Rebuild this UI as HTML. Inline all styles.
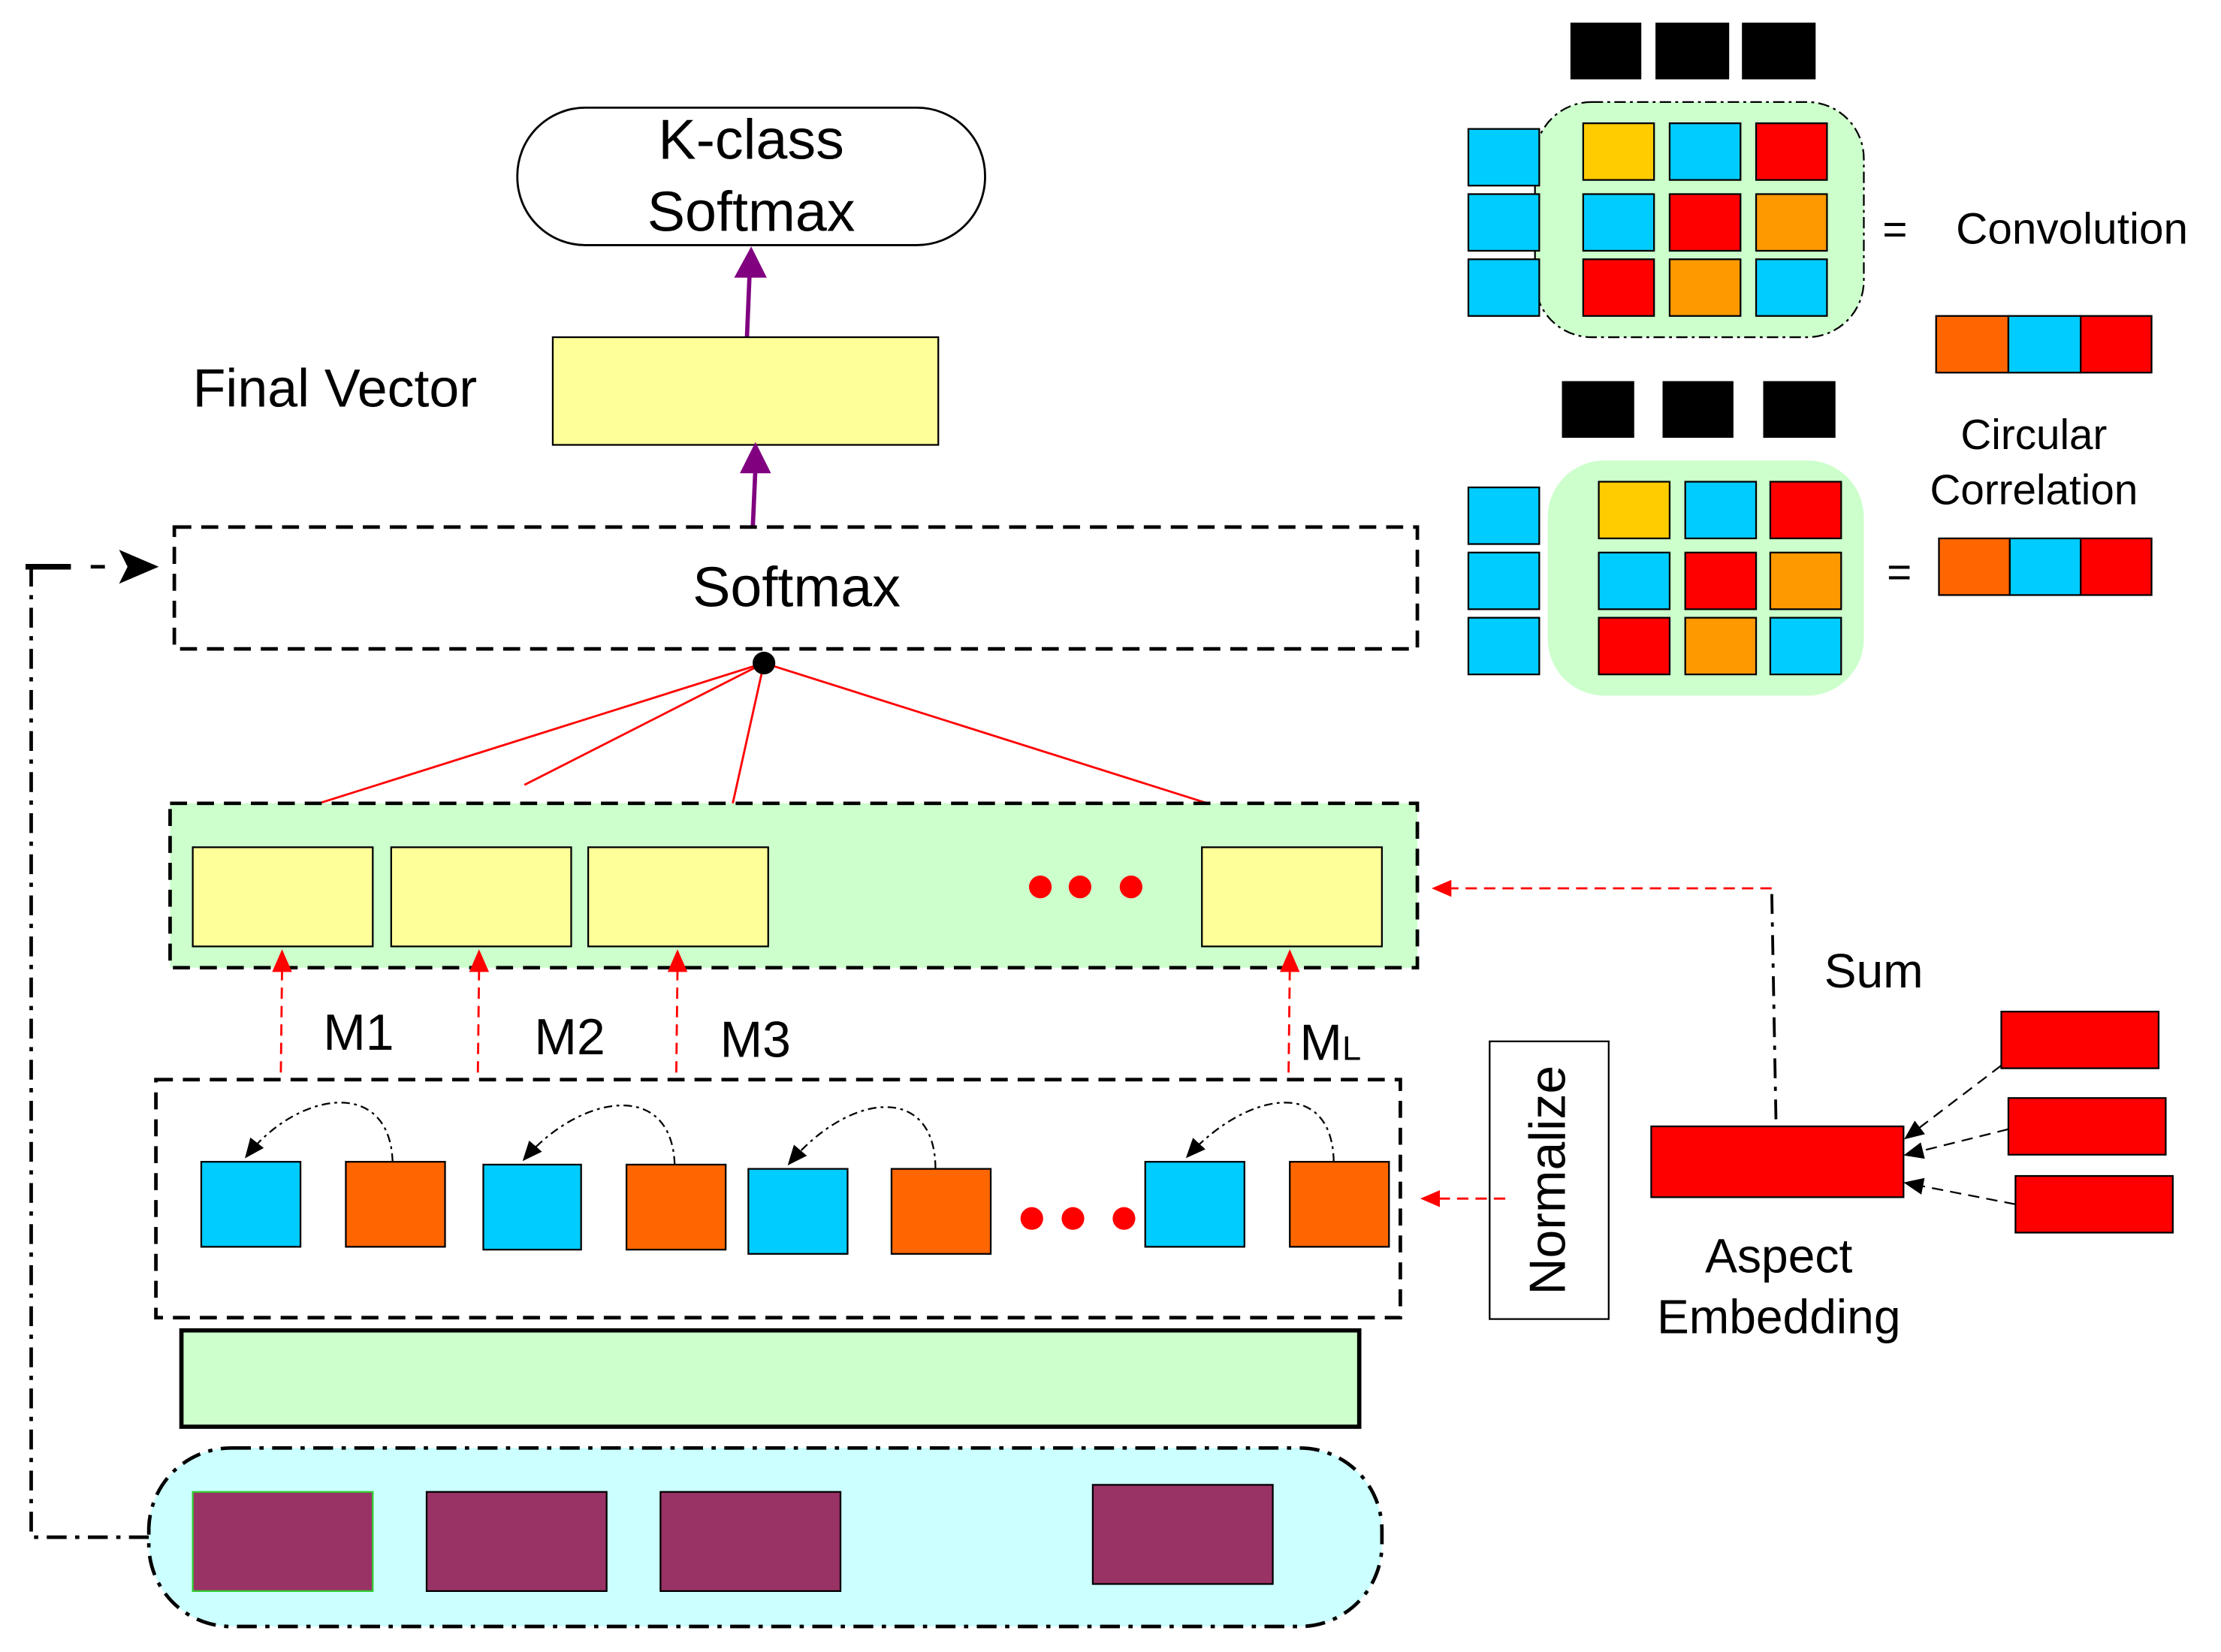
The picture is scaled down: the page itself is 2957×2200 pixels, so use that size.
<!DOCTYPE html>
<html><head><meta charset="utf-8"><style>html,body{margin:0;padding:0;background:#fff}svg{display:block}</style></head>
<body>
<svg width="2957" height="2200" viewBox="0 0 1567 1166" preserveAspectRatio="none" xmlns="http://www.w3.org/2000/svg" font-family="Liberation Sans, sans-serif">
<defs>
<marker id="ra" markerWidth="14" markerHeight="12" refX="12" refY="6" orient="auto" markerUnits="userSpaceOnUse"><path d="M0,0 L14,6 L0,12 z" fill="#ff0000"/></marker>
<marker id="ba" markerWidth="14" markerHeight="12" refX="12" refY="6" orient="auto" markerUnits="userSpaceOnUse"><path d="M0,0 L14,6 L0,12 z" fill="#000"/></marker>
</defs>
<rect x="365" y="76" width="330" height="97" rx="48" fill="#fff" stroke="#000" stroke-width="1.5"/>
<text x="530" y="112" font-size="40" text-anchor="middle">K-class</text>
<text x="530" y="163" font-size="40" text-anchor="middle">Softmax</text>
<line x1="527" y1="238" x2="529" y2="190" stroke="#800080" stroke-width="3"/>
<path d="M518,196 L530,174 L541,196 z" fill="#800080"/>
<rect x="390" y="238" width="272" height="76" fill="#ffff99" stroke="#000" stroke-width="1.2"/>
<text x="136" y="287" font-size="38">Final Vector</text>
<line x1="531" y1="375" x2="533" y2="330" stroke="#800080" stroke-width="3"/>
<path d="M522,334 L533,312 L544,334 z" fill="#800080"/>
<rect x="123" y="372" width="877" height="86" fill="#fff" stroke="#000" stroke-width="2.5" stroke-dasharray="12,7"/>
<text x="562" y="428" font-size="40" text-anchor="middle">Softmax</text>
<g stroke="#ff0000" stroke-width="1.5">
<line x1="539" y1="468" x2="225" y2="567"/><line x1="539" y1="468" x2="370" y2="554"/><line x1="539" y1="468" x2="517" y2="567"/><line x1="539" y1="468" x2="852" y2="567"/></g>
<circle cx="539" cy="468" r="8" fill="#000"/>
<rect x="120" y="567" width="880" height="116" fill="#ccffcc" stroke="#000" stroke-width="2.5" stroke-dasharray="12,7"/>
<g fill="#ffff99" stroke="#000" stroke-width="1.2">
<rect x="136" y="598" width="127" height="70"/><rect x="276" y="598" width="127" height="70"/><rect x="415" y="598" width="127" height="70"/><rect x="848" y="598" width="127" height="70"/></g>
<g fill="#ff0000"><circle cx="734" cy="626" r="8"/><circle cx="762" cy="626" r="8"/><circle cx="798" cy="626" r="8"/></g>
<g stroke="#ff0000" stroke-width="1.5" stroke-dasharray="8,5" fill="none">
<line x1="198" y1="770" x2="199" y2="684"/><line x1="337" y1="770" x2="338" y2="684"/><line x1="477" y1="770" x2="478" y2="684"/><line x1="909" y1="770" x2="910" y2="684"/></g>
<g fill="#ff0000"><path d="M192,686 L199,670 L206,686z"/><path d="M331,686 L338,670 L345,686z"/><path d="M471,686 L478,670 L485,686z"/><path d="M903,686 L910,670 L917,686z"/></g>
<text x="228" y="741" font-size="36">M1</text>
<text x="377" y="744" font-size="36">M2</text>
<text x="508" y="746" font-size="36">M3</text>
<text x="917" y="748" font-size="36">M<tspan font-size="24">L</tspan></text>
<rect x="110" y="762" width="878" height="168" fill="#fff" stroke="#000" stroke-width="2.5" stroke-dasharray="12,7"/>
<g stroke="#000" stroke-width="1.2">
<rect x="142" y="820" width="70" height="60" fill="#00ccff"/><rect x="244" y="820" width="70" height="60" fill="#ff6600"/>
<rect x="341" y="822" width="69" height="60" fill="#00ccff"/><rect x="442" y="822" width="70" height="60" fill="#ff6600"/>
<rect x="528" y="825" width="70" height="60" fill="#00ccff"/><rect x="629" y="825" width="70" height="60" fill="#ff6600"/>
<rect x="808" y="820" width="70" height="60" fill="#00ccff"/><rect x="910" y="820" width="70" height="60" fill="#ff6600"/></g>
<g fill="#ff0000"><circle cx="728" cy="860" r="8"/><circle cx="757" cy="860" r="8"/><circle cx="793" cy="860" r="8"/></g>
<g stroke="#000" stroke-width="1.2" stroke-dasharray="6,3,2,3" fill="none" marker-end="url(#ba)">
<path d="M277,820 C275,760 210,770 174,816"/>
<path d="M476,822 C474,762 410,772 370,818"/>
<path d="M660,825 C660,765 600,770 557,821"/>
<path d="M941,820 C940,760 880,770 838,816"/></g>
<rect x="128" y="939" width="831" height="68" fill="#ccffcc" stroke="#000" stroke-width="3"/>
<rect x="105" y="1022" width="870" height="126" rx="58" fill="#ccffff" stroke="#000" stroke-width="2.5" stroke-dasharray="14,6,3,6"/>
<g fill="#993366" stroke="#000" stroke-width="1.2">
<rect x="136" y="1053" width="127" height="70" stroke="#33cc33"/><rect x="301" y="1053" width="127" height="70"/><rect x="466" y="1053" width="127" height="70"/><rect x="771" y="1048" width="127" height="70"/></g>
<path d="M105,1085 L22,1085 L22,400 L50,400" fill="none" stroke="#000" stroke-width="2.5" stroke-dasharray="14,6,3,6"/>
<line x1="64" y1="400" x2="74" y2="400" stroke="#000" stroke-width="2.5"/>
<path d="M84,388 L112,400 L84,412 L90,400z" fill="#000"/>
<line x1="18" y1="400" x2="50" y2="400" stroke="#000" stroke-width="4"/>
<rect x="1051" y="735" width="84" height="196" fill="#fff" stroke="#000" stroke-width="1.2"/>
<text transform="translate(1104,833) rotate(-90)" font-size="36" text-anchor="middle">Normalize</text>
<line x1="1062" y1="846" x2="1004" y2="846" stroke="#ff0000" stroke-width="1.5" stroke-dasharray="8,5" marker-end="url(#ra)"/>
<rect x="1165" y="795" width="178" height="50" fill="#ff0000" stroke="#000" stroke-width="1.2"/>
<text x="1255" y="898" font-size="34" text-anchor="middle">Aspect</text>
<text x="1255" y="941" font-size="34" text-anchor="middle">Embedding</text>
<g fill="#ff0000" stroke="#000" stroke-width="1.2">
<rect x="1412" y="714" width="111" height="40"/><rect x="1417" y="775" width="111" height="40"/><rect x="1422" y="830" width="111" height="40"/></g>
<g stroke="#000" stroke-width="1.2" stroke-dasharray="8,5" marker-end="url(#ba)">
<line x1="1412" y1="752" x2="1345" y2="803"/><line x1="1417" y1="797" x2="1345" y2="815"/><line x1="1422" y1="850" x2="1345" y2="835"/></g>
<text x="1322" y="697" font-size="34" text-anchor="middle">Sum</text>
<path d="M1253,790 L1250,627" fill="none" stroke="#000" stroke-width="2" stroke-dasharray="14,6,3,6"/>
<line x1="1250" y1="627" x2="1012" y2="627" stroke="#ff0000" stroke-width="1.5" stroke-dasharray="8,5" marker-end="url(#ra)"/>
<g fill="#000"><rect x="1108" y="16" width="50" height="40"/><rect x="1168" y="16" width="52" height="40"/><rect x="1229" y="16" width="52" height="40"/></g>
<rect x="1083" y="72" width="232" height="166" rx="40" fill="#ccffcc" stroke="#000" stroke-width="1.2" stroke-dasharray="8,3,2,3"/>
<g stroke="#000" stroke-width="1.2">
<rect x="1036" y="91" width="50" height="40" fill="#00ccff"/><rect x="1036" y="137" width="50" height="40" fill="#00ccff"/><rect x="1036" y="183" width="50" height="40" fill="#00ccff"/>
<rect x="1117" y="87" width="50" height="40" fill="#ffcc00"/><rect x="1178" y="87" width="50" height="40" fill="#00ccff"/><rect x="1239" y="87" width="50" height="40" fill="#ff0000"/>
<rect x="1117" y="137" width="50" height="40" fill="#00ccff"/><rect x="1178" y="137" width="50" height="40" fill="#ff0000"/><rect x="1239" y="137" width="50" height="40" fill="#ff9900"/>
<rect x="1117" y="183" width="50" height="40" fill="#ff0000"/><rect x="1178" y="183" width="50" height="40" fill="#ff9900"/><rect x="1239" y="183" width="50" height="40" fill="#00ccff"/>
<rect x="1366" y="223" width="51" height="40" fill="#ff6600"/><rect x="1417" y="223" width="51" height="40" fill="#00ccff"/><rect x="1468" y="223" width="50" height="40" fill="#ff0000"/>
</g>
<text x="1337" y="172" font-size="30" text-anchor="middle">=</text>
<text x="1380" y="172" font-size="31">Convolution</text>
<text x="1435" y="317" font-size="30" text-anchor="middle">Circular</text>
<text x="1435" y="356" font-size="30" text-anchor="middle">Correlation</text>
<g fill="#000"><rect x="1102" y="269" width="51" height="40"/><rect x="1173" y="269" width="50" height="40"/><rect x="1244" y="269" width="51" height="40"/></g>
<rect x="1092" y="325" width="223" height="166" rx="40" fill="#ccffcc"/>
<g stroke="#000" stroke-width="1.2">
<rect x="1036" y="344" width="50" height="40" fill="#00ccff"/><rect x="1036" y="390" width="50" height="40" fill="#00ccff"/><rect x="1036" y="436" width="50" height="40" fill="#00ccff"/>
<rect x="1128" y="340" width="50" height="40" fill="#ffcc00"/><rect x="1189" y="340" width="50" height="40" fill="#00ccff"/><rect x="1249" y="340" width="50" height="40" fill="#ff0000"/>
<rect x="1128" y="390" width="50" height="40" fill="#00ccff"/><rect x="1189" y="390" width="50" height="40" fill="#ff0000"/><rect x="1249" y="390" width="50" height="40" fill="#ff9900"/>
<rect x="1128" y="436" width="50" height="40" fill="#ff0000"/><rect x="1189" y="436" width="50" height="40" fill="#ff9900"/><rect x="1249" y="436" width="50" height="40" fill="#00ccff"/>
<rect x="1368" y="380" width="50" height="40" fill="#ff6600"/><rect x="1418" y="380" width="50" height="40" fill="#00ccff"/><rect x="1468" y="380" width="50" height="40" fill="#ff0000"/>
</g>
<text x="1340" y="414" font-size="30" text-anchor="middle">=</text>
</svg>
</body></html>
